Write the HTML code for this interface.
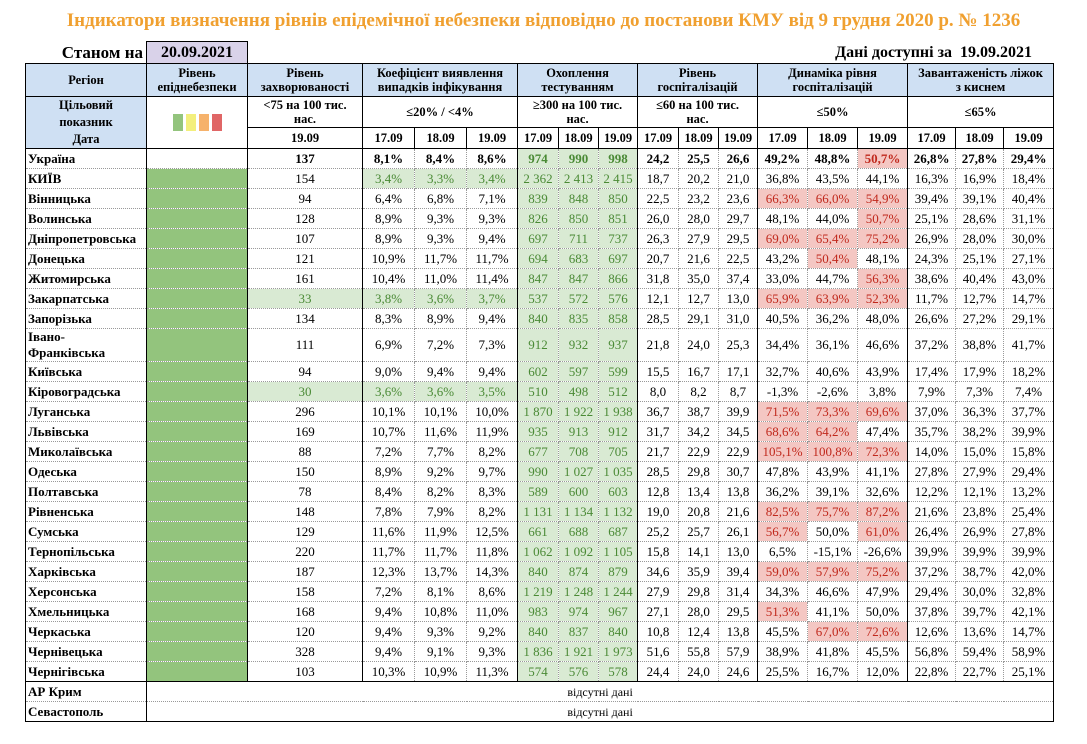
<!DOCTYPE html>
<html><head><meta charset="utf-8">
<style>
body{margin:0;width:1087px;height:744px;background:#fff;position:relative;font-family:"Liberation Serif",serif;color:#000;overflow:hidden}
.title{position:absolute;left:0;width:1087px;top:10px;text-align:center;color:#f0a030;font-weight:bold;font-size:19px}
.st{position:absolute;left:40px;top:43px;width:103px;text-align:right;font-weight:bold;font-size:17px}
.dt{position:absolute;left:146px;top:41px;width:100px;height:21px;background:#d9d2e9;border:1.5px solid #000;border-bottom:none;text-align:center;font-weight:bold;font-size:16px;line-height:21px}
.av{position:absolute;right:55px;top:44px;font-weight:bold;font-size:16px}
table{position:absolute;left:25px;top:63px;width:1028px;border-collapse:collapse;table-layout:fixed;font-size:13px}
td{padding:0;text-align:center;border:1px dotted #999;line-height:14px;white-space:nowrap;overflow:hidden}
tr.h td{border:1.5px solid #000;font-weight:bold;font-size:12.5px;white-space:normal}
tr.h1 td{background:#cfe0f3}
td.bl{background:#cfe0f3}
tbody tr td{height:19px}
tbody td:nth-child(1){text-align:left;font-weight:bold;padding-left:2px;border-left:1.5px solid #000;border-right:1.5px solid #000}
tbody td:nth-child(2),tbody td:nth-child(3),tbody td:nth-child(4),tbody td:nth-child(7),tbody td:nth-child(10),tbody td:nth-child(13),tbody td:nth-child(16){border-left:1.5px solid #000}
tbody td:nth-child(18){border-right:1.5px solid #000}
td.e{background:#93c47d}
.g{background:#d9ead3;color:#4a8a35}
.p{background:#f4c7c3;color:#c0281c}
tr.u td{font-weight:bold;border-top:1.5px solid #000}
tr.last td{border-bottom:1.5px solid #000}
.sq{display:inline-block;width:10px;height:17px;margin:0 1.5px;vertical-align:middle}
</style></head><body>
<div class="title">Індикатори визначення рівнів епідемічної небезпеки відповідно до постанови КМУ від 9 грудня 2020 р. № 1236</div>
<div class="st">Станом на</div>
<div class="dt">20.09.2021</div>
<div class="av">Дані доступні за &nbsp;19.09.2021</div>
<table>
<colgroup><col style="width:121px"><col style="width:101px"><col style="width:115px"><col style="width:52px"><col style="width:52px"><col style="width:51px"><col style="width:41px"><col style="width:40px"><col style="width:39px"><col style="width:41px"><col style="width:40px"><col style="width:39px"><col style="width:50px"><col style="width:50px"><col style="width:50px"><col style="width:48px"><col style="width:48px"><col style="width:50px"></colgroup>
<thead>
<tr class="h h1" style="height:33px"><td>Регіон</td><td>Рівень<br>епіднебезпеки</td><td>Рівень<br>захворюваності</td><td colspan="3">Коефіцієнт виявлення<br>випадків інфікування</td><td colspan="3">Охоплення<br>тестуванням</td><td colspan="3">Рівень<br>госпіталізацій</td><td colspan="3">Динаміка рівня<br>госпіталізацій</td><td colspan="3">Завантаженість ліжок<br>з киснем</td></tr>
<tr class="h" style="height:31px"><td class="bl" rowspan="2" style="line-height:17px">Цільовий<br>показник<br>Дата</td><td rowspan="2"><span class="sq" style="background:#93c47d"></span><span class="sq" style="background:#f3ef7c"></span><span class="sq" style="background:#f6b26b"></span><span class="sq" style="background:#e06666"></span></td><td>&lt;75 на 100 тис.<br>нас.</td><td colspan="3">≤20% / &lt;4%</td><td colspan="3">≥300 на 100 тис.<br>нас.</td><td colspan="3">≤60 на 100 тис.<br>нас.</td><td colspan="3">≤50%</td><td colspan="3">≤65%</td></tr>
<tr class="h" style="height:21px"><td>19.09</td><td>17.09</td><td>18.09</td><td>19.09</td><td>17.09</td><td>18.09</td><td>19.09</td><td>17.09</td><td>18.09</td><td>19.09</td><td>17.09</td><td>18.09</td><td>19.09</td><td>17.09</td><td>18.09</td><td>19.09</td></tr>
</thead>
<tbody>
<tr class="u"><td>Україна</td><td></td><td>137</td><td>8,1%</td><td>8,4%</td><td>8,6%</td><td class="g">974</td><td class="g">990</td><td class="g">998</td><td>24,2</td><td>25,5</td><td>26,6</td><td>49,2%</td><td>48,8%</td><td class="p">50,7%</td><td>26,8%</td><td>27,8%</td><td>29,4%</td></tr>
<tr><td>КИЇВ</td><td class="e"></td><td>154</td><td class="g">3,4%</td><td class="g">3,3%</td><td class="g">3,4%</td><td class="g">2 362</td><td class="g">2 413</td><td class="g">2 415</td><td>18,7</td><td>20,2</td><td>21,0</td><td>36,8%</td><td>43,5%</td><td>44,1%</td><td>16,3%</td><td>16,9%</td><td>18,4%</td></tr>
<tr><td>Вінницька</td><td class="e"></td><td>94</td><td>6,4%</td><td>6,8%</td><td>7,1%</td><td class="g">839</td><td class="g">848</td><td class="g">850</td><td>22,5</td><td>23,2</td><td>23,6</td><td class="p">66,3%</td><td class="p">66,0%</td><td class="p">54,9%</td><td>39,4%</td><td>39,1%</td><td>40,4%</td></tr>
<tr><td>Волинська</td><td class="e"></td><td>128</td><td>8,9%</td><td>9,3%</td><td>9,3%</td><td class="g">826</td><td class="g">850</td><td class="g">851</td><td>26,0</td><td>28,0</td><td>29,7</td><td>48,1%</td><td>44,0%</td><td class="p">50,7%</td><td>25,1%</td><td>28,6%</td><td>31,1%</td></tr>
<tr><td>Дніпропетровська</td><td class="e"></td><td>107</td><td>8,9%</td><td>9,3%</td><td>9,4%</td><td class="g">697</td><td class="g">711</td><td class="g">737</td><td>26,3</td><td>27,9</td><td>29,5</td><td class="p">69,0%</td><td class="p">65,4%</td><td class="p">75,2%</td><td>26,9%</td><td>28,0%</td><td>30,0%</td></tr>
<tr><td>Донецька</td><td class="e"></td><td>121</td><td>10,9%</td><td>11,7%</td><td>11,7%</td><td class="g">694</td><td class="g">683</td><td class="g">697</td><td>20,7</td><td>21,6</td><td>22,5</td><td>43,2%</td><td class="p">50,4%</td><td>48,1%</td><td>24,3%</td><td>25,1%</td><td>27,1%</td></tr>
<tr><td>Житомирська</td><td class="e"></td><td>161</td><td>10,4%</td><td>11,0%</td><td>11,4%</td><td class="g">847</td><td class="g">847</td><td class="g">866</td><td>31,8</td><td>35,0</td><td>37,4</td><td>33,0%</td><td>44,7%</td><td class="p">56,3%</td><td>38,6%</td><td>40,4%</td><td>43,0%</td></tr>
<tr><td>Закарпатська</td><td class="e"></td><td class="g">33</td><td class="g">3,8%</td><td class="g">3,6%</td><td class="g">3,7%</td><td class="g">537</td><td class="g">572</td><td class="g">576</td><td>12,1</td><td>12,7</td><td>13,0</td><td class="p">65,9%</td><td class="p">63,9%</td><td class="p">52,3%</td><td>11,7%</td><td>12,7%</td><td>14,7%</td></tr>
<tr><td>Запорізька</td><td class="e"></td><td>134</td><td>8,3%</td><td>8,9%</td><td>9,4%</td><td class="g">840</td><td class="g">835</td><td class="g">858</td><td>28,5</td><td>29,1</td><td>31,0</td><td>40,5%</td><td>36,2%</td><td>48,0%</td><td>26,6%</td><td>27,2%</td><td>29,1%</td></tr>
<tr><td style="height:31px;vertical-align:top;line-height:16px">Івано-<br>Франківська</td><td class="e"></td><td>111</td><td>6,9%</td><td>7,2%</td><td>7,3%</td><td class="g">912</td><td class="g">932</td><td class="g">937</td><td>21,8</td><td>24,0</td><td>25,3</td><td>34,4%</td><td>36,1%</td><td>46,6%</td><td>37,2%</td><td>38,8%</td><td>41,7%</td></tr>
<tr><td>Київська</td><td class="e"></td><td>94</td><td>9,0%</td><td>9,4%</td><td>9,4%</td><td class="g">602</td><td class="g">597</td><td class="g">599</td><td>15,5</td><td>16,7</td><td>17,1</td><td>32,7%</td><td>40,6%</td><td>43,9%</td><td>17,4%</td><td>17,9%</td><td>18,2%</td></tr>
<tr><td>Кіровоградська</td><td class="e"></td><td class="g">30</td><td class="g">3,6%</td><td class="g">3,6%</td><td class="g">3,5%</td><td class="g">510</td><td class="g">498</td><td class="g">512</td><td>8,0</td><td>8,2</td><td>8,7</td><td>-1,3%</td><td>-2,6%</td><td>3,8%</td><td>7,9%</td><td>7,3%</td><td>7,4%</td></tr>
<tr><td>Луганська</td><td class="e"></td><td>296</td><td>10,1%</td><td>10,1%</td><td>10,0%</td><td class="g">1 870</td><td class="g">1 922</td><td class="g">1 938</td><td>36,7</td><td>38,7</td><td>39,9</td><td class="p">71,5%</td><td class="p">73,3%</td><td class="p">69,6%</td><td>37,0%</td><td>36,3%</td><td>37,7%</td></tr>
<tr><td>Львівська</td><td class="e"></td><td>169</td><td>10,7%</td><td>11,6%</td><td>11,9%</td><td class="g">935</td><td class="g">913</td><td class="g">912</td><td>31,7</td><td>34,2</td><td>34,5</td><td class="p">68,6%</td><td class="p">64,2%</td><td>47,4%</td><td>35,7%</td><td>38,2%</td><td>39,9%</td></tr>
<tr><td>Миколаївська</td><td class="e"></td><td>88</td><td>7,2%</td><td>7,7%</td><td>8,2%</td><td class="g">677</td><td class="g">708</td><td class="g">705</td><td>21,7</td><td>22,9</td><td>22,9</td><td class="p">105,1%</td><td class="p">100,8%</td><td class="p">72,3%</td><td>14,0%</td><td>15,0%</td><td>15,8%</td></tr>
<tr><td>Одеська</td><td class="e"></td><td>150</td><td>8,9%</td><td>9,2%</td><td>9,7%</td><td class="g">990</td><td class="g">1 027</td><td class="g">1 035</td><td>28,5</td><td>29,8</td><td>30,7</td><td>47,8%</td><td>43,9%</td><td>41,1%</td><td>27,8%</td><td>27,9%</td><td>29,4%</td></tr>
<tr><td>Полтавська</td><td class="e"></td><td>78</td><td>8,4%</td><td>8,2%</td><td>8,3%</td><td class="g">589</td><td class="g">600</td><td class="g">603</td><td>12,8</td><td>13,4</td><td>13,8</td><td>36,2%</td><td>39,1%</td><td>32,6%</td><td>12,2%</td><td>12,1%</td><td>13,2%</td></tr>
<tr><td>Рівненська</td><td class="e"></td><td>148</td><td>7,8%</td><td>7,9%</td><td>8,2%</td><td class="g">1 131</td><td class="g">1 134</td><td class="g">1 132</td><td>19,0</td><td>20,8</td><td>21,6</td><td class="p">82,5%</td><td class="p">75,7%</td><td class="p">87,2%</td><td>21,6%</td><td>23,8%</td><td>25,4%</td></tr>
<tr><td>Сумська</td><td class="e"></td><td>129</td><td>11,6%</td><td>11,9%</td><td>12,5%</td><td class="g">661</td><td class="g">688</td><td class="g">687</td><td>25,2</td><td>25,7</td><td>26,1</td><td class="p">56,7%</td><td>50,0%</td><td class="p">61,0%</td><td>26,4%</td><td>26,9%</td><td>27,8%</td></tr>
<tr><td>Тернопільська</td><td class="e"></td><td>220</td><td>11,7%</td><td>11,7%</td><td>11,8%</td><td class="g">1 062</td><td class="g">1 092</td><td class="g">1 105</td><td>15,8</td><td>14,1</td><td>13,0</td><td>6,5%</td><td>-15,1%</td><td>-26,6%</td><td>39,9%</td><td>39,9%</td><td>39,9%</td></tr>
<tr><td>Харківська</td><td class="e"></td><td>187</td><td>12,3%</td><td>13,7%</td><td>14,3%</td><td class="g">840</td><td class="g">874</td><td class="g">879</td><td>34,6</td><td>35,9</td><td>39,4</td><td class="p">59,0%</td><td class="p">57,9%</td><td class="p">75,2%</td><td>37,2%</td><td>38,7%</td><td>42,0%</td></tr>
<tr><td>Херсонська</td><td class="e"></td><td>158</td><td>7,2%</td><td>8,1%</td><td>8,6%</td><td class="g">1 219</td><td class="g">1 248</td><td class="g">1 244</td><td>27,9</td><td>29,8</td><td>31,4</td><td>34,3%</td><td>46,6%</td><td>47,9%</td><td>29,4%</td><td>30,0%</td><td>32,8%</td></tr>
<tr><td>Хмельницька</td><td class="e"></td><td>168</td><td>9,4%</td><td>10,8%</td><td>11,0%</td><td class="g">983</td><td class="g">974</td><td class="g">967</td><td>27,1</td><td>28,0</td><td>29,5</td><td class="p">51,3%</td><td>41,1%</td><td>50,0%</td><td>37,8%</td><td>39,7%</td><td>42,1%</td></tr>
<tr><td>Черкаська</td><td class="e"></td><td>120</td><td>9,4%</td><td>9,3%</td><td>9,2%</td><td class="g">840</td><td class="g">837</td><td class="g">840</td><td>10,8</td><td>12,4</td><td>13,8</td><td>45,5%</td><td class="p">67,0%</td><td class="p">72,6%</td><td>12,6%</td><td>13,6%</td><td>14,7%</td></tr>
<tr><td>Чернівецька</td><td class="e"></td><td>328</td><td>9,4%</td><td>9,1%</td><td>9,3%</td><td class="g">1 836</td><td class="g">1 921</td><td class="g">1 973</td><td>51,6</td><td>55,8</td><td>57,9</td><td>38,9%</td><td>41,8%</td><td>45,5%</td><td>56,8%</td><td>59,4%</td><td>58,9%</td></tr>
<tr><td>Чернігівська</td><td class="e"></td><td>103</td><td>10,3%</td><td>10,9%</td><td>11,3%</td><td class="g">574</td><td class="g">576</td><td class="g">578</td><td>24,4</td><td>24,0</td><td>24,6</td><td>25,5%</td><td>16,7%</td><td>12,0%</td><td>22,8%</td><td>22,7%</td><td>25,1%</td></tr>
<tr><td style="border-top:1.5px solid #000">АР Крим</td><td colspan="17" style="border-left:1.5px solid #000;border-right:1.5px solid #000;border-top:1.5px solid #000;font-size:12px">відсутні дані</td></tr>
<tr class="last"><td>Севастополь</td><td colspan="17" style="border-left:1.5px solid #000;border-right:1.5px solid #000;font-size:12px">відсутні дані</td></tr>
</tbody>
</table>
</body></html>
